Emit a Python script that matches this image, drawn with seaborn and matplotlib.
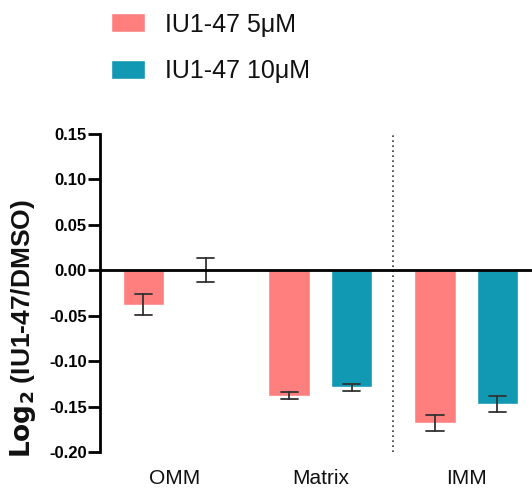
import numpy as np
import pandas as pd
import matplotlib
matplotlib.use("Agg")
import matplotlib.pyplot as plt
import seaborn as sns
from matplotlib.patches import Patch

sns.set_style("white")
plt.rcParams['font.family'] = ['Liberation Sans', 'DejaVu Sans']
plt.rcParams['text.color'] = '#111111'
plt.rcParams['axes.labelcolor'] = '#111111'
plt.rcParams['xtick.color'] = '#111111'
plt.rcParams['ytick.color'] = 'black'

compartments = ["OMM", "Matrix", "IMM"]
treatments = ["IU1-47 5μM", "IU1-47 10μM"]
means_5 = [-0.038, -0.138, -0.168]
errs_5 = [0.0115, 0.004, 0.0087]
means_10 = [0.000, -0.129, -0.147]
errs_10 = [0.013, 0.004, 0.0088]
colors = ["#FF7F7F", "#1199B4"]
yticks = [0.15, 0.10, 0.05, 0.00, -0.05, -0.10, -0.15, -0.20]

rows = []
for t, means, errs in [(treatments[0], means_5, errs_5), (treatments[1], means_10, errs_10)]:
    for c, m, e in zip(compartments, means, errs):
        rows.append({"comp": c, "treat": t, "val": m - e})
        rows.append({"comp": c, "treat": t, "val": m + e})
df = pd.DataFrame(rows)

fig = plt.figure(figsize=(5.32, 4.88), dpi=100)
ax = fig.add_axes([0.188, 0.0738, 0.812, 0.6516])

sns.barplot(data=df, x="comp", y="val", hue="treat", order=compartments,
            hue_order=treatments, palette=colors, width=0.854, gap=0.33,
            errorbar=lambda v: (v.min(), v.max()), capsize=0.24,
            err_kws={"color": "#333333", "linewidth": 1.3},
            saturation=1, ax=ax, legend=False)

ax.set_ylim(-0.20, 0.15)
ax.set_xlim(-0.511, 2.45)
ax.set_yticks(yticks)
ax.set_yticklabels([f"{v:.2f}" for v in yticks], fontsize=12, fontweight="bold")
ax.tick_params(axis="y", left=True, length=8.5, width=2, color="black", pad=1)
ax.tick_params(axis="x", length=0, labelsize=15, pad=12)
for s in ["top", "right", "bottom"]:
    ax.spines[s].set_visible(False)
ax.spines["left"].set_linewidth(2)
ax.spines["left"].set_color("black")
ax.axhline(0, color="black", lw=2, zorder=5, clip_on=False)
ax.axvline(1.5, ymin=0.0, ymax=1.0, color="#333333", lw=1.2, ls=(0, (1, 2)))
ax.set_xlabel("")
ax.set_ylabel(r"$\mathbf{Log_2}$ (IU1-47/DMSO)", fontsize=19, fontweight="bold")
ax.yaxis.set_label_coords(-0.143, 0.387)

handles = [Patch(facecolor=col, label=lab) for col, lab in zip(colors, treatments)]
fig.legend(handles=handles, loc="upper left", bbox_to_anchor=(0.18, 1.005),
           frameon=False, fontsize=18, handlelength=1.35, handleheight=0.8,
           handletextpad=0.8, labelspacing=0.9, borderaxespad=0.2)

fig.savefig("out.png", dpi=100)
